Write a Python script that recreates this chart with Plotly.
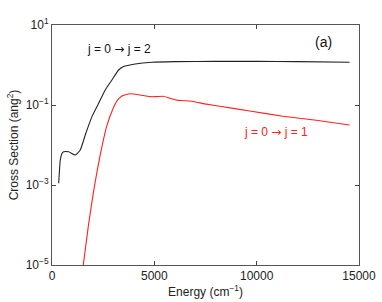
import plotly.graph_objects as go

# j=0 -> j=2 (black)
energy_j2 = [327, 405, 480, 571, 815, 1137, 1380, 1624, 1951, 2278, 2600, 2927, 3254, 3498, 4063, 4878, 6000, 8000, 10000, 12000, 14540]
sigma_j2 = [1.10e-3, 4.22e-3, 6.03e-3, 6.76e-3, 6.76e-3, 5.62e-3, 7.50e-3, 1.78e-2, 5.13e-2, 0.110, 0.237, 0.422, 0.750, 0.912, 1.06, 1.175, 1.216, 1.23, 1.23, 1.216, 1.175]

# j=0 -> j=1 (red)
energy_j1 = [1528, 1772, 2016, 2341, 2668, 2990, 3200, 3400, 3805, 4293, 4780, 5100, 5430, 5756, 6244, 6730, 7550, 8200, 9660, 11280, 12910, 14540]
sigma_j1 = [1.0e-5, 9.1e-5, 6.17e-4, 5.13e-3, 2.88e-2, 8.32e-2, 0.132, 0.166, 0.191, 0.178, 0.162, 0.162, 0.166, 0.148, 0.129, 0.126, 0.105, 0.093, 0.071, 0.0525, 0.0417, 0.0316]

y_tickvals = [1e-5, 1e-3, 1e-1, 1e1]
y_ticktext = ["10<sup>−5</sup>", "10<sup>−3</sup>", "10<sup>−1</sup>", "10<sup>1</sup>"]
x_tickvals = [0, 5000, 10000, 15000]
x_ticktext = ["0", "5000", "10000", "15000"]

fig = go.Figure()
fig.add_trace(go.Scatter(x=energy_j2, y=sigma_j2, mode="lines",
                         line=dict(color="#222222", width=1.1, shape="spline", smoothing=0.5),
                         showlegend=False))
fig.add_trace(go.Scatter(x=energy_j1, y=sigma_j1, mode="lines",
                         line=dict(color="#ff2020", width=1.1, shape="spline", smoothing=0.5),
                         showlegend=False))

fam = "Liberation Sans, Arial, sans-serif"
fnt = dict(family=fam, size=12, color="#222")
arrow = '<span style="font-family:DejaVu Sans">→</span>'

fig.update_xaxes(range=[0, 15000], tickvals=x_tickvals, ticktext=x_ticktext, ticks="inside", ticklen=4,
                 showline=True, linecolor="#555", linewidth=1, mirror="ticks",
                 showgrid=False, zeroline=False, tickfont=fnt, automargin=False,
                 title=dict(text="Energy (cm<sup>−1</sup>)", font=fnt, standoff=2))
fig.update_yaxes(type="log", range=[-5, 1], tickvals=y_tickvals, ticktext=y_ticktext,
                 ticks="inside", ticklen=4, showline=True, linecolor="#555", linewidth=1,
                 mirror="ticks", showgrid=False, zeroline=False, tickfont=fnt, automargin=False,
                 title=dict(text="Cross Section (ang<sup>2</sup>)", font=fnt, standoff=4))

fig.add_annotation(x=0.107, y=0.9, xref="paper", yref="paper", text="j = 0 " + arrow + " j = 2",
                   showarrow=False, xanchor="left", yanchor="middle",
                   font=dict(family=fam, size=12, color="#111"))
fig.add_annotation(x=0.62, y=0.555, xref="paper", yref="paper", text="j = 0 " + arrow + " j = 1",
                   showarrow=False, xanchor="left", yanchor="middle",
                   font=dict(family=fam, size=12, color="#ff2020"))
fig.add_annotation(x=0.85, y=0.93, xref="paper", yref="paper", text="(a)",
                   showarrow=False, xanchor="left", yanchor="middle",
                   font=dict(family=fam, size=14, color="#111"))

fig.update_layout(width=382, height=302, margin=dict(l=52, r=23, t=25, b=37),
                  plot_bgcolor="white", paper_bgcolor="white")
fig.write_html("out.html", config={"displayModeBar": False},
               post_script="document.body.style.margin='0';document.body.style.overflow='hidden';")
